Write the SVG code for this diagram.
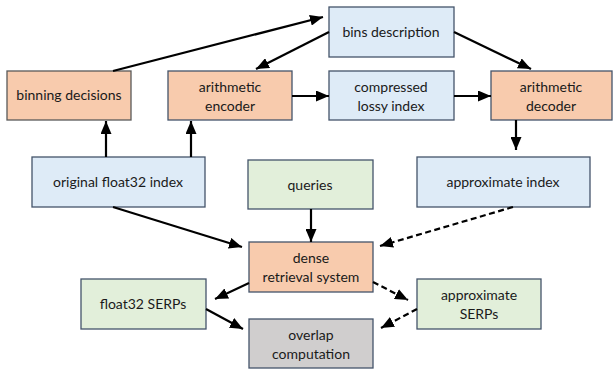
<svg xmlns="http://www.w3.org/2000/svg" width="613" height="371" viewBox="0 0 613 371">
  <style>
    .box { stroke: #44546a; stroke-width: 1.3; }
    .orange { fill: #f8cbad; }
    .blue { fill: #deebf7; }
    .green { fill: #e2efda; }
    .gray { fill: #d0cece; }
    text { font-family: Lato, "Noto Sans", "Liberation Sans", sans-serif; font-size: 14px; fill: #1a1a1a; text-anchor: middle; }
    .edge { stroke: #000; stroke-width: 2.2; fill: none; marker-end: url(#arrow); }
    .dash { stroke-dasharray: 6 3.5; }
  </style>
  <defs>
    <marker id="arrow" markerUnits="userSpaceOnUse" markerWidth="13" markerHeight="11" refX="13" refY="5.5" orient="auto">
      <path d="M0,0 L13,5.5 L0,11 z" fill="#000"/>
    </marker>
  </defs>
  <rect width="613" height="371" fill="#fff"/>

  <g id="nodes">
    <g id="binning-decisions">
      <rect class="box orange" x="7" y="71" width="124" height="49" style="stroke:#595959"/>
      <text x="69" y="100">binning decisions</text>
    </g>
    <g id="arithmetic-encoder">
      <rect class="box orange" x="168" y="71" width="124" height="49"/>
      <text x="230" y="92">arithmetic</text>
      <text x="230" y="111">encoder</text>
    </g>
    <g id="bins-description">
      <rect class="box blue" x="329" y="7" width="125" height="50"/>
      <text x="391" y="37">bins description</text>
    </g>
    <g id="compressed-lossy-index">
      <rect class="box blue" x="329" y="71" width="125" height="49"/>
      <text x="391" y="92">compressed</text>
      <text x="391" y="111">lossy index</text>
    </g>
    <g id="arithmetic-decoder">
      <rect class="box orange" x="491" y="71" width="121" height="49"/>
      <text x="551" y="92">arithmetic</text>
      <text x="551" y="111">decoder</text>
    </g>
    <g id="original-index">
      <rect class="box blue" x="32" y="157" width="173" height="50"/>
      <text x="118" y="187">original float32 index</text>
    </g>
    <g id="queries">
      <rect class="box green" x="248" y="160" width="125" height="49"/>
      <text x="310" y="190">queries</text>
    </g>
    <g id="approximate-index">
      <rect class="box blue" x="417" y="157" width="173" height="50"/>
      <text x="503" y="187">approximate index</text>
    </g>
    <g id="dense-retrieval">
      <rect class="box orange" x="249" y="242" width="124" height="50"/>
      <text x="311" y="263">dense</text>
      <text x="311" y="282">retrieval system</text>
    </g>
    <g id="float32-serps">
      <rect class="box green" x="81" y="279" width="125" height="50"/>
      <text x="143" y="309">float32 SERPs</text>
    </g>
    <g id="approximate-serps">
      <rect class="box green" x="417" y="279" width="124" height="50"/>
      <text x="479" y="300">approximate</text>
      <text x="479" y="319">SERPs</text>
    </g>
    <g id="overlap-computation">
      <rect class="box gray" x="249" y="319" width="124" height="49"/>
      <text x="311" y="340">overlap</text>
      <text x="311" y="359">computation</text>
    </g>
  </g>

  <g id="connectors">
    <line class="edge" x1="113" y1="71" x2="323" y2="17"/>
    <line class="edge" x1="329" y1="32" x2="256" y2="69"/>
    <line class="edge" x1="454" y1="32" x2="531" y2="69"/>
    <line class="edge" x1="292" y1="96" x2="329" y2="96"/>
    <line class="edge" x1="454" y1="96" x2="491" y2="96"/>
    <line class="edge" x1="516" y1="120" x2="516" y2="150"/>
    <line class="edge" x1="106" y1="157" x2="106" y2="121"/>
    <line class="edge" x1="191" y1="157" x2="191" y2="121"/>
    <line class="edge" x1="113" y1="207" x2="242" y2="247"/>
    <line class="edge" x1="311" y1="209" x2="311" y2="242"/>
    <line class="edge dash" x1="513" y1="207" x2="380" y2="246"/>
    <line class="edge" x1="249" y1="283" x2="215" y2="299"/>
    <line class="edge" x1="206" y1="309" x2="243" y2="329"/>
    <line class="edge dash" x1="373" y1="282" x2="408" y2="300"/>
    <line class="edge dash" x1="417" y1="309" x2="381" y2="328"/>
  </g>
</svg>
